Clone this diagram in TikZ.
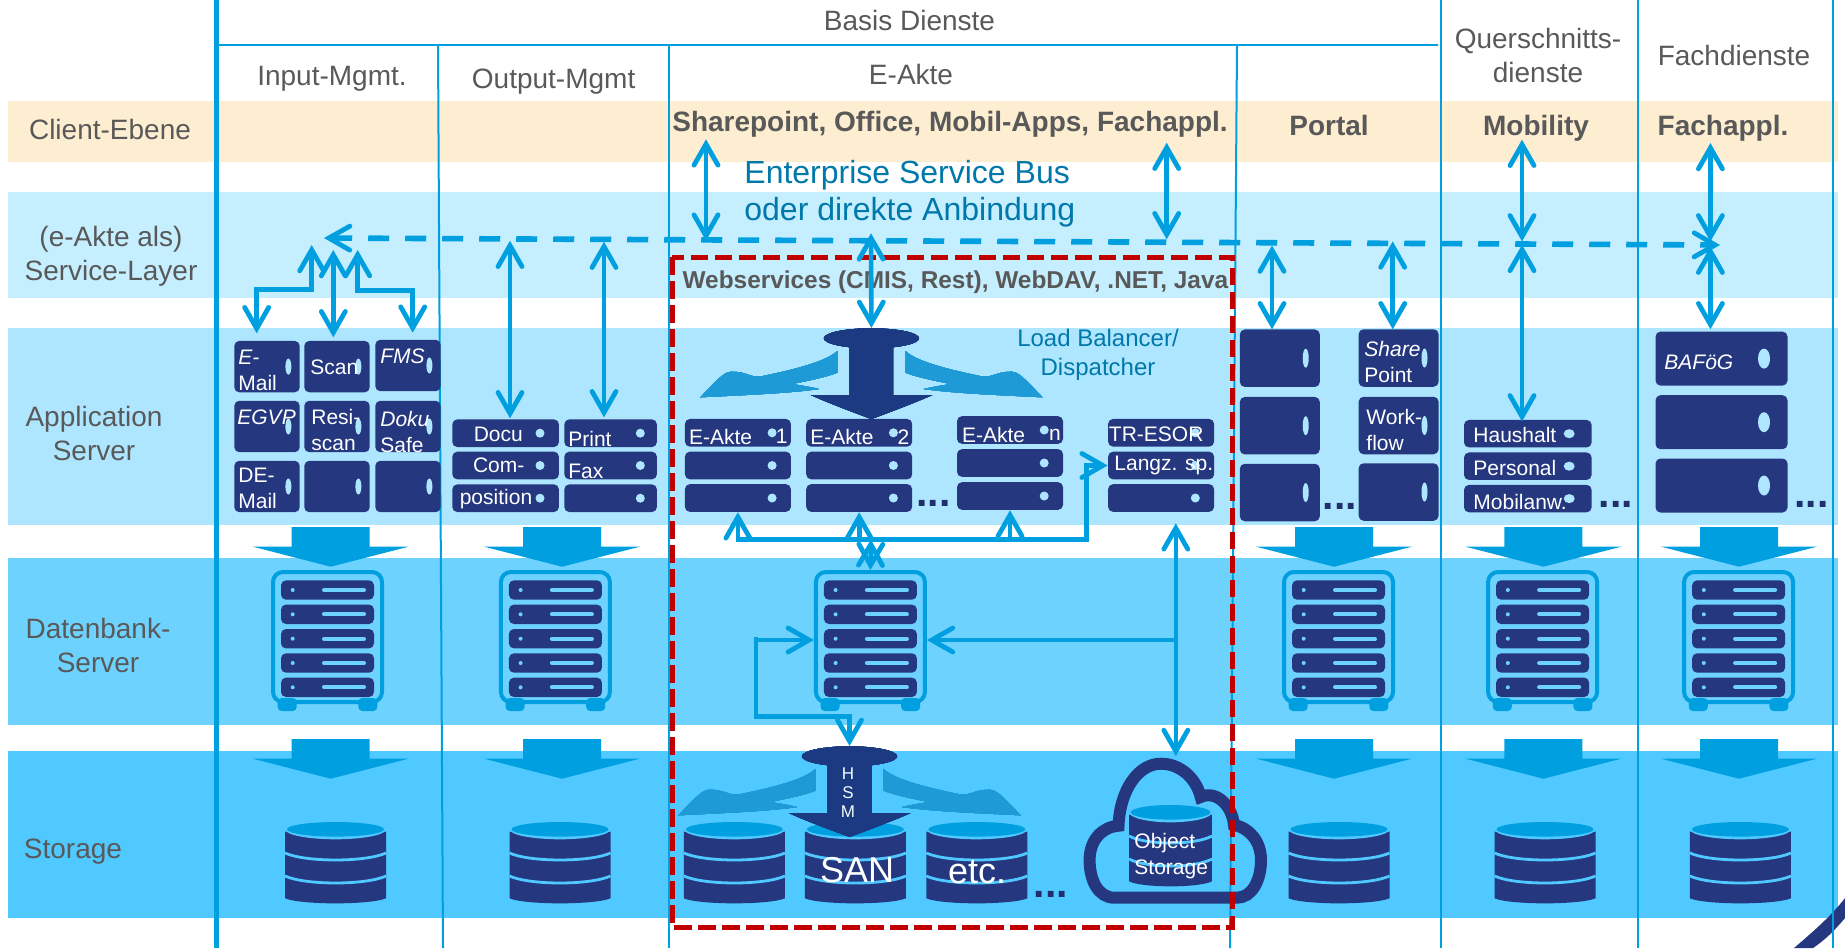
\documentclass[tikz,border=0pt]{standalone}
\usepackage{fontspec}
\usepackage{tikz}
\usetikzlibrary{arrows.meta,shapes.geometric}
\setmainfont{Liberation Sans}
\definecolor{bandclient}{RGB}{253,238,209}
\definecolor{bandservice}{RGB}{197,238,255}
\definecolor{bandapp}{RGB}{174,230,255}
\definecolor{banddb}{RGB}{110,210,255}
\definecolor{bandstore}{RGB}{79,201,255}
\definecolor{lineblue}{RGB}{0,160,224}
\definecolor{mynavy}{RGB}{37,56,127}
\definecolor{headblue}{RGB}{27,58,130}
\definecolor{wingblue}{RGB}{30,155,215}
\definecolor{esbblue}{RGB}{0,120,170}
\definecolor{textgray}{RGB}{89,89,89}
\definecolor{frame}{RGB}{192,0,0}
% big arrow between two layers
\newcommand{\bigarrow}[2]{
  \fill[lineblue,shift={(#1,#2)}] (-39,0) -- (39,0) -- (39,19.7) -- (77.8,19.7) -- (0,39.7) -- (-77.8,19.7) -- (-39,19.7) -- cycle;
}
% the server tower of the database layer
\newcommand{\dbtower}[2]{
  \begin{scope}[shift={(#2,0)}]
    \fill[lineblue,rounded corners=2pt] (-49.8,698) rectangle (-30.8,711);
    \fill[lineblue,rounded corners=2pt] (30.8,698) rectangle (49.8,711);
    \node[towerbox] (#1) at (0,637) {};
    \foreach \yy in {590,614.3,638.7,663,687.3}{
      \fill[mynavy,rounded corners=2.5pt] (-46.5,\yy-9.7) rectangle (46.5,\yy+9.7);
      \fill[banddb] (-34.8,\yy) circle [radius=2];
      \draw[banddb,line width=2pt,line cap=round] (-3.5,\yy) -- (36.5,\yy);
    }
  \end{scope}
}
% the disk stack of the storage layer
\newcommand{\dbcyl}[3]{
  \begin{scope}[shift={(#1,#2)},xscale=#3]
    \fill[mynavy] (-50.5,9.7) -- (-50.5,76.3) .. controls (-35,83) and (35,83) .. (50.5,76.3) -- (50.5,9.7) -- cycle;
    \foreach \yy in {31,54}
      \draw[bandstore,line width=1.4pt] (-50.5,\yy) .. controls (-30,\yy+9.3) and (30,\yy+9.3) .. (50.5,\yy);
    \fill[bandstore] (0,7.3) ellipse [x radius=50.5,y radius=10];
    \fill[lineblue] (0,7.3) ellipse [x radius=48.5,y radius=7.3];
  \end{scope}
}
% dispatcher with a wing on each side
\newcommand{\dispatcher}[3]{
  \begin{scope}[shift={(#2,#3)}]
    \foreach \sx in {1,-1}
      \fill[wingblue,xscale=\sx] (-34.1,12.7) .. controls (-46,24) and (-81,32) .. (-111.8,38.4) .. controls (-121,39) and (-126,33) .. (-140.5,33.4) .. controls (-147,34) and (-151,38) .. (-171.1,59) .. controls (-131,57) and (-81,55) .. (-52.5,50.7) .. controls (-59,49) and (-71,47) .. (-79.3,45.7) .. controls (-61,42) and (-46,39) .. (-34.1,34.4) -- cycle;
    \fill[headblue] (-21.8,5) -- (-21.8,56.7) -- (-60.5,56.7) .. controls (-58,58) and (-40,66) .. (0,80.7) .. controls (40,66) and (58,58) .. (61,56.7) -- (21.8,56.7) -- (21.8,5) -- cycle;
    \node[ellipse,fill=headblue,inner sep=0pt,minimum width=47.6pt,minimum height=10pt] (#1) at (0,0) {};
  \end{scope}
}
\begin{document}
\begin{tikzpicture}[
          x=.5pt,y=-.5pt,
          srvbox/.style={fill=mynavy,rounded corners=2.5pt,inner sep=0pt},
          srvdot/.style={fill=bandapp},
          srvtext/.style={anchor=west,inner sep=0pt,text=white,align=left,font=\fontsize{10.5}{13}\selectfont},
          layertext/.style={inner sep=0pt,text=textgray,align=center,font=\fontsize{14}{17}\selectfont},
          clienttext/.style={inner sep=0pt,text=textgray,font=\fontsize{14}{17}\bfseries\selectfont},
          esbtext/.style={inner sep=0pt,text=esbblue,align=left,font=\fontsize{16}{18.5}\selectfont},
          moredots/.style={anchor=base,inner sep=0pt,text=mynavy!85!black,font=\fontsize{20.5}{24}\bfseries\selectfont},
          towerbox/.style={draw=lineblue,line width=2pt,rounded corners=5pt,minimum width=54.5pt,minimum height=65pt,inner sep=0pt},
          conn/.style={draw=lineblue,line width=2.3pt,>={Straight Barb[length=10.5pt,width=12pt,line cap=round,line join=miter,line width=2.4pt]}},
          busline/.style={conn,line width=2.8pt,dash pattern=on 10.5pt off 8pt}
          ]
          \useasboundingbox (0,0) rectangle (1845,948);

          % the layers
          \fill[bandclient] (8,101) rectangle (1838,162);
          \fill[bandservice] (8,192) rectangle (1838,298);
          \fill[bandapp] (8,328) rectangle (1838,525);
          \fill[banddb] (8,558) rectangle (1838,725);
          \fill[bandstore] (8,751) rectangle (1838,918);
          \fill[mynavy] (1794,948) .. controls (1815,930) and (1832,915) .. (1845,898) -- (1845,918) .. controls (1835,930) and (1825,940) .. (1813,948) -- cycle;

          % the columns
          \draw[lineblue,line width=2.5pt] (216.5,0) -- (216.5,948);
          \draw[lineblue,line width=1.2pt] (216.5,45) -- (1438,45);
          \draw[lineblue,line width=1pt] (438,45) -- (443,948);
          \draw[lineblue,line width=1pt] (669,45) -- (669,948);
          \draw[lineblue,line width=1pt] (1237,45) -- (1230,948);
          \foreach \xx in {1441,1638,1833}
            \draw[lineblue,line width=1.3pt] (\xx,0) -- (\xx,948);

          % the layer names
          \node[layertext] (client) at (110,129) {Client-Ebene};
          \node[layertext] (service) at (111,256.5) {(e-Akte als)\\Service-Layer};
          \node[layertext] (appserver) at (94,433) {Application\\Server};
          \node[layertext] (dbserver) at (98,645) {Datenbank-\\Server};
          \node[layertext] (storage) at (73,851.5) {Storage};

          % the column names
          \node[layertext] (basis) at (909.5,20) {Basis Dienste};
          \node[layertext] (inputm) at (332,78.5) {Input-Mgmt.};
          \node[layertext] (outputm) at (553.6,82) {Output-Mgmt};
          \node[layertext] (eakte) at (911,74) {E-Akte};
          \node[layertext] (quer) at (1538,55) {Querschnitts-\\dienste};
          \node[layertext] (fach) at (1734,55) {Fachdienste};

          % the clients
          \node[clienttext] (sharept) at (950,124.5) {Sharepoint, Office, Mobil-Apps, Fachappl.};
          \node[clienttext] (portal) at (1329,125) {Portal};
          \node[clienttext] (mobility) at (1536,128) {Mobility};
          \node[clienttext] (fachappl) at (1723,128) {Fachappl.};
          \node[esbtext,anchor=west] (esb) at (744,193.5) {Enterprise Service Bus\\oder direkte Anbindung};
          \node[inner sep=0pt,text=textgray,font=\fontsize{12.2}{14}\bfseries\selectfont] (websrv) at (955.4,282) {Webservices (CMIS, Rest), WebDAV, .NET, Java};
          \node[inner sep=0pt,text=esbblue,align=center,font=\fontsize{12}{14.5}\selectfont] (lbtext) at (1098,354.5) {Load Balancer/\\Dispatcher};

          % the big arrows, towers and disks
          \foreach \xx in {330.7,562,1334,1543.4,1739}{
            \bigarrow{\xx}{527}
            \bigarrow{\xx}{739}
          }
          \dbtower{db1}{327.5}
          \dbtower{db2}{555.4}
          \dbtower{db3}{870.4}
          \dbtower{db4}{1338.5}
          \dbtower{db5}{1542.6}
          \dbtower{db6}{1738.6}
          \foreach \xx in {335.5,560,734.4,855.4,976.8,1339,1545,1740.4}
            \dbcyl{\xx}{822}{1}
          \dispatcher{lb}{871.4}{338.3}
          \dispatcher{hsm}{849.5}{756.3}
          \node[inner sep=0pt,text=white!85!bandapp,align=center,font=\fontsize{8.5}{9.5}\selectfont] (hsmtext) at (848,793) {H\\S\\M};

          % the cloud
          \draw[mynavy,line width=6pt] (1114.5,897.7) .. controls (1098,897.7) and (1089.6,880) .. (1089.6,860)
            .. controls (1089.6,840) and (1102,827) .. (1118.5,825.7)
            .. controls (1120,790) and (1138,763.7) .. (1161,763.7)
            .. controls (1180,763.7) and (1196,778) .. (1200.7,797)
            .. controls (1216,790) and (1232,805) .. (1234,825)
            .. controls (1250,828) and (1261,842) .. (1261,860)
            .. controls (1261,880) and (1252,897.7) .. (1237,897.7) -- cycle;
          \dbcyl{1170.5}{805}{.82}
          \node[srvtext,font=\fontsize{18}{20}\selectfont,anchor=center] (san) at (857,870) {SAN};
          \node[srvtext,font=\fontsize{18}{20}\selectfont,anchor=center] (etc) at (977,872) {etc.};
          \node[srvtext] (objstore) at (1134,856) {Object\\Storage};

          % the input servers
          \foreach \i/\xx/\yy in {1/267/366.6,2/337/366.6,3/408/365.5,4/267/426.5,5/337/426.5,6/408/426.5,7/267/486.5,8/337/486.5,9/408/486.5}{
            \node[srvbox,minimum width=32.7pt,minimum height=25.7pt] (inp\i) at (\xx,\yy) {};
            \fill[srvdot] (inp\i.east) ++(-11.7,0) ellipse [x radius=3,y radius=8];
          }
          \foreach \i/\xx/\yy/\txt in {1/238/370/\itshape E-\\Mail,2/310/367/Scan,3/380/356/\itshape FMS,4/237/417/\itshape EGVP,5/311/430/Resi-\\scan,6/380/431.5/\itshape Doku\\Safe,7/238/488.5/DE-\\Mail}
            \node[srvtext] (inptxt\i) at (\xx,\yy) {\txt};

          % the output servers
          \foreach \i/\xx/\yy in {1/505.6/433.2,2/505.6/465.5,3/505.6/498.2}{
            \node[srvbox,minimum width=53.3pt,minimum height=13.85pt] (outa\i) at (\xx,\yy) {};
            \fill[srvdot] (outa\i.east) ++(-19.3,0) circle [radius=4.5];
          }
          \foreach \i/\xx/\yy in {1/610.6/433.2,2/610.6/465.5,3/610.6/498.2}{
            \node[srvbox,minimum width=46.3pt,minimum height=13.85pt] (outb\i) at (\xx,\yy) {};
            \fill[srvdot] (outb\i.east) ++(-17,0) circle [radius=4.5];
          }
          \foreach \i/\xx/\yy/\txt in {1/498.3/434.3/Docu,2/498.7/465/Com-,3/496/499/position}
            \node[srvtext,anchor=center] (outtxt\i) at (\xx,\yy) {\txt};
          \node[srvtext] (print) at (568,439) {Print};
          \node[srvtext] (fax) at (568,471.7) {Fax};

          % the e-Akte servers
          \foreach \c/\xx/\ya/\yb/\yc in {1/737.9/432.8/465.5/498,2/859.2/432.8/465.5/498,3/1010/430/463/496,4/1161.1/432.8/465.5/498}{
            \foreach \r/\yy in {a/\ya,b/\yb,c/\yc}{
              \node[srvbox,minimum width=53pt,minimum height=13.85pt] (ea\c\r) at (\xx,\yy) {};
              \fill[srvdot] (ea\c\r.east) ++(-19.2,0) circle [radius=4.5];
            }
          }
          \foreach \i/\xx/\yy/\txt in {1/688.7/436.7/E-Akte,2/810/436.7/E-Akte,3/961.6/435/E-Akte,4/1108.5/434.7/TR-ESOR,5/1114/465.7/Langz. sp.}
            \node[srvtext] (eatxt\i) at (\xx,\yy) {\txt};
          \foreach \i/\xx/\yy/\txt in {a/781.7/436.7/1,b/903.4/436.7/2,c/1055/435/n}
            \node[srvtext,anchor=center] (eanum\i) at (\xx,\yy) {\txt};

          % the portal servers
          \foreach \i/\xx/\yy in {a1/1279.8/358.2,a2/1279.8/425.7,a3/1279.8/492.5,b1/1398.6/358,b2/1398.6/425.5,b3/1398.6/492}{
            \node[srvbox,minimum width=40pt,minimum height=28.75pt] (por\i) at (\xx,\yy) {};
            \fill[srvdot] (por\i.east) ++(-14.5,0) ellipse [x radius=3,y radius=9.5];
          }
          \node[srvtext] (sharetxt) at (1364,361.5) {\itshape Share\\Point};
          \node[srvtext] (worktxt) at (1366,430) {Work-\\flow};

          % the mobility servers
          \foreach \i/\yy/\txt/\yt in {1/433.7/Haushalt/435,2/466.2/Personal/468,3/498.6/Mobilanw./502}{
            \node[srvbox,minimum width=63.8pt,minimum height=13.75pt] (mob\i) at (1527.8,\yy) {};
            \fill[srvdot] (mob\i.east) ++(-22.8,0) ellipse [x radius=5.5,y radius=4.5];
            \node[srvtext] (mobtxt\i) at (1473,\yt) {\txt};
          }

          % the fachdienst servers
          \foreach \i/\yy in {1/358.6,2/422.2,3/485.5}{
            \node[srvbox,minimum width=66pt,minimum height=27pt] (fd\i) at (1721.5,\yy) {};
            \fill[srvdot] (fd\i.east) ++(-23.9,0) ellipse [x radius=6,y radius=10];
          }
          \node[srvtext] (bafoeg) at (1664,362) {\itshape BAFöG};

          % the dots
          \node[moredots] (more1) at (933.6,506) {...};
          \node[moredots] (more2) at (1340,509) {...};
          \node[moredots] (more3) at (1615.7,507) {...};
          \node[moredots] (more4) at (1811.3,507) {...};
          \node[moredots] (more5) at (1050.7,897) {...};

          % the frame of the e-Akte
          \draw[frame,line width=2.5pt,dash pattern=on 8.75pt off 3.25pt] (672,257) rectangle (1232,927);

          % the ends of the connectors
          \foreach \i/\xx/\yy in {busw/324/238,buse/1720/245,inpa/311.7/245,inpb/333.3/250,inpc/357.7/250,
              inpabend/256.7/289.3,inpcbend/412.7/290.7,inpat/256.7/333.3,inpbt/333.3/337.3,inpct/412.7/332.7,
              outat/510/240.7,outab/510/418.3,outbt/604/241.7,outbb/604/417.3,
              clia/706/139.3,clib/706/240.7,clic/1166.7/142.7,clid/1166.7/239.3,busmid/871/233.3,
              eabusa/737.9/539.5,eabusb/859.2/539.5,eabusc/1010/539.5,eabusm/870.9/539.5,eabend/1086.7/539.5,
              esorin/1175.8/523.3,esorjoin/1175.8/640,cloudtop/1175.8/756,
              loopa/756/637,loopb/849.5/716.7,
              pora/1272/245.5,porat/1272/329.3,porb/1392.7/241.4,porbt/1392.7/329.3,
              moba/1522/139.7,mobb/1522/241.4,mobc/1522/244.8,mobd/1522/421.4,
              fda/1710.4/143,fdb/1710.4/241.4,fdc/1710.4/246.6,fdd/1710.4/329.3}
            \coordinate (\i) at (\xx,\yy);

          % the edges
          \draw[busline,<->] (busw) -- (buse);
          \draw[conn,<->] (inpa) |- (inpabend) -- (inpat);
          \draw[conn,<->] (inpb) -- (inpbt);
          \draw[conn,<->] (inpc) |- (inpcbend) -- (inpct);
          \draw[conn,<->] (outat) -- (outab);
          \draw[conn,<->] (outbt) -- (outbb);
          \draw[conn,<->] (clia) -- (clib);
          \draw[conn,<->] (clic) -- (clid);
          \draw[conn,<->] (busmid) -- (lb.north);
          \draw[conn,<->] (ea1c.south) |- (eabend) |- (ea4b.west);
          \draw[conn,->] (eabusb) -- (ea2c.south);
          \draw[conn,->] (eabusc) -- (ea3c.south);
          \draw[conn,<->] (eabusm) -- (db3.north);
          \draw[conn,<->] (esorin) -- (cloudtop);
          \draw[conn,->] (esorjoin) -- ([yshift=-1.5pt]db3.east);
          \draw[conn,<->] ([yshift=-1.5pt]db3.west) -| (loopa) |- (loopb) -- (hsm.north);
          \draw[conn,<->] (pora) -- (porat);
          \draw[conn,<->] (porb) -- (porbt);
          \draw[conn,<->] (moba) -- (mobb);
          \draw[conn,<->] (mobc) -- (mobd);
          \draw[conn,<->] (fda) -- (fdb);
          \draw[conn,<->] (fdc) -- (fdd);
\end{tikzpicture}
\end{document}
